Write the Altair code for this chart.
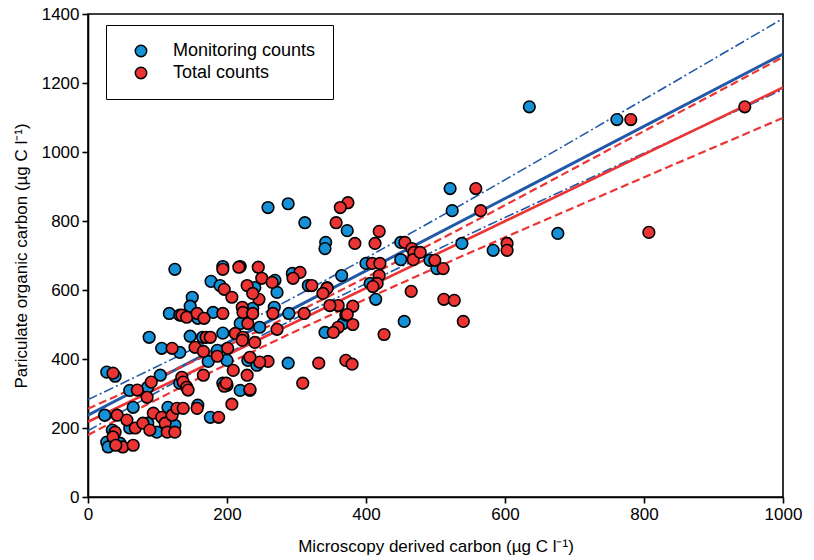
import altair as alt
import pandas as pd

# ---- data ----
mon_x = [635, 761, 676, 583, 521, 524, 538, 455, 414, 450, 450, 492, 502, 400, 365, 406, 367, 373,
         259, 288, 312, 342, 341, 294, 317, 344, 341, 289, 288, 125, 194, 219, 177, 190, 240, 269,
         272, 150, 147, 117, 132, 158, 180, 219, 237, 268, 247, 88, 106, 147, 165, 186, 194, 173,
         200, 230, 243, 132, 194, 219, 233, 158, 176, 27, 39, 60, 104, 86, 65, 24, 60, 35, 86, 99,
         115, 125, 27, 29, 46, 132]
mon_y = [1131, 1094, 764, 715, 894, 830, 735, 509, 573, 738, 688, 686, 662, 677, 642, 619, 503, 772,
         839, 850, 795, 738, 720, 648, 613, 607, 477, 532, 388, 660, 668, 668, 625, 613, 607, 628,
         593, 579, 553, 532, 527, 518, 535, 503, 547, 550, 492, 463, 431, 466, 463, 425, 475, 393,
         396, 396, 382, 419, 330, 309, 309, 266, 231, 362, 350, 309, 353, 318, 260, 237, 200, 194,
         214, 188, 260, 208, 159, 145, 156, 330]

tot_x = [781, 945, 807, 558, 565, 603, 603, 456, 466, 469, 468, 478, 499, 511, 465, 512, 527, 540,
         409, 420, 419, 416, 410, 381, 371, 381, 426, 371, 380, 374, 363, 357, 419, 384, 413, 332,
         309, 360, 353, 373, 360, 348, 344, 338, 322, 305, 295, 311, 272, 259, 247, 233, 209, 229,
         200, 196, 233, 207, 157, 188, 194, 217, 245, 250, 196, 229, 265, 246, 207, 237, 222, 135,
         142, 157, 167, 194, 230, 223, 237, 266, 121, 170, 176, 154, 166, 186, 212, 201, 240, 223,
         222, 166, 199, 36, 71, 85, 135, 137, 142, 144, 91, 42, 56, 68, 39, 79, 94, 89, 106, 111,
         121, 114, 125, 128, 137, 36, 50, 65, 40]
tot_y = [1094, 1131, 767, 894, 830, 735, 715, 738, 720, 709, 688, 709, 686, 662, 596, 573, 570, 509,
         677, 677, 642, 619, 610, 553, 527, 500, 471, 396, 385, 853, 839, 795, 770, 735, 735, 388,
         330, 492, 477, 529, 555, 555, 605, 590, 613, 651, 634, 532, 486, 393, 391, 405, 367, 353,
         324, 321, 312, 269, 257, 231, 660, 666, 666, 634, 602, 613, 622, 573, 579, 590, 550, 527,
         521, 532, 518, 532, 503, 535, 532, 532, 431, 463, 463, 434, 422, 408, 474, 431, 448, 463,
         454, 353, 330, 359, 310, 289, 347, 333, 318, 310, 333, 237, 223, 200, 188, 214, 243, 194,
         231, 214, 237, 188, 188, 257, 257, 174, 145, 150, 150]

series_names = ["Monitoring counts", "Total counts"]
point_colors = ["#1690d6", "#ec3434"]

# regression lines and their confidence bands
fit_x = [0, 1000]
mon_fit = [237, 1284]
tot_fit = [218, 1187]
band_x = [0, 250, 500, 750, 1000]
mon_upper = [282, 530, 805, 1094, 1387]
mon_lower = [192, 468, 715, 950, 1181]
tot_upper = [256, 486, 740, 1007, 1275]
tot_lower = [180, 434, 664, 883, 1099]

x_ticks = [0, 200, 400, 600, 800, 1000]
y_ticks = [0, 200, 400, 600, 800, 1000, 1200, 1400]

FONT = "Liberation Sans"

pts = pd.DataFrame({
    "x": mon_x + tot_x,
    "y": mon_y + tot_y,
    "series": [series_names[0]] * len(mon_x) + [series_names[1]] * len(tot_x),
})

xs = alt.Scale(domain=[0, 1000], nice=False)
ys = alt.Scale(domain=[0, 1400], nice=False)

x_axis = alt.Axis(values=x_ticks, format="d", title="Microscopy derived carbon (µg C l⁻¹)",
                  titlePadding=16, labelPadding=3, labelFlush=False)
y_axis = alt.Axis(values=y_ticks, format="d",
                  title="Pariculate organic carbon (µg C l⁻¹)", titlePadding=11, labelPadding=3,
                  labelFlush=False)


def line_layer(xv, yv, color, width, dash=None, interp="linear"):
    df = pd.DataFrame({"x": xv, "y": yv})
    kw = dict(color=color, strokeWidth=width, interpolate=interp, clip=True)
    if dash is not None:
        kw["strokeDash"] = dash
    return alt.Chart(df).mark_line(**kw).encode(
        x=alt.X("x:Q", scale=xs, axis=x_axis),
        y=alt.Y("y:Q", scale=ys, axis=y_axis),
    )


BLUE_LINE = "#2258a8"
RED_LINE = "#ec3434"

lines = [
    line_layer(band_x, mon_upper, BLUE_LINE, 1.6, [10, 3, 2, 3], "monotone"),
    line_layer(band_x, mon_lower, BLUE_LINE, 1.6, [10, 3, 2, 3], "monotone"),
    line_layer(fit_x, mon_fit, BLUE_LINE, 3),
    line_layer(band_x, tot_upper, RED_LINE, 2.2, [8, 4], "monotone"),
    line_layer(band_x, tot_lower, RED_LINE, 2.2, [8, 4], "monotone"),
    line_layer(fit_x, tot_fit, RED_LINE, 2.6),
]

points = alt.Chart(pts).mark_point(
    filled=True, shape="circle", size=135, stroke="black", strokeWidth=1.6, opacity=1
).encode(
    x=alt.X("x:Q", scale=xs, axis=x_axis),
    y=alt.Y("y:Q", scale=ys, axis=y_axis),
    color=alt.Color(
        "series:N",
        scale=alt.Scale(domain=series_names, range=point_colors),
        legend=alt.Legend(
            title=None, orient="none", legendX=18, legendY=11, padding=17,
            strokeColor="black", fillColor="white",
            symbolType="circle", symbolSize=130, symbolStrokeColor="black",
            symbolStrokeWidth=1.5, symbolOpacity=1,
            labelFontSize=18, labelFont=FONT, labelColor="black",
            labelOffset=23, symbolOffset=9, rowPadding=4,
        ),
    ),
    order=alt.Order("order_key:Q"),
).transform_calculate(order_key="datum.series == 'Total counts' ? 1 : 0")

chart = alt.layer(*lines, points).properties(
    width=695, height=483,
    autosize=alt.AutoSizeParams(type="none"),
    padding={"left": 80, "top": 6, "right": 23, "bottom": 61},
).configure_view(
    stroke="black", strokeWidth=1.6
).configure_axis(
    grid=False, domainColor="black", domainWidth=1.6, tickColor="black", tickWidth=1.6,
    tickSize=6, labelFontSize=17, titleFontSize=17, labelFont=FONT, titleFont=FONT,
    labelColor="black", titleColor="black", titleFontWeight="normal",
)

chart.save("out.html", embed_options={"renderer": "svg", "actions": False})
